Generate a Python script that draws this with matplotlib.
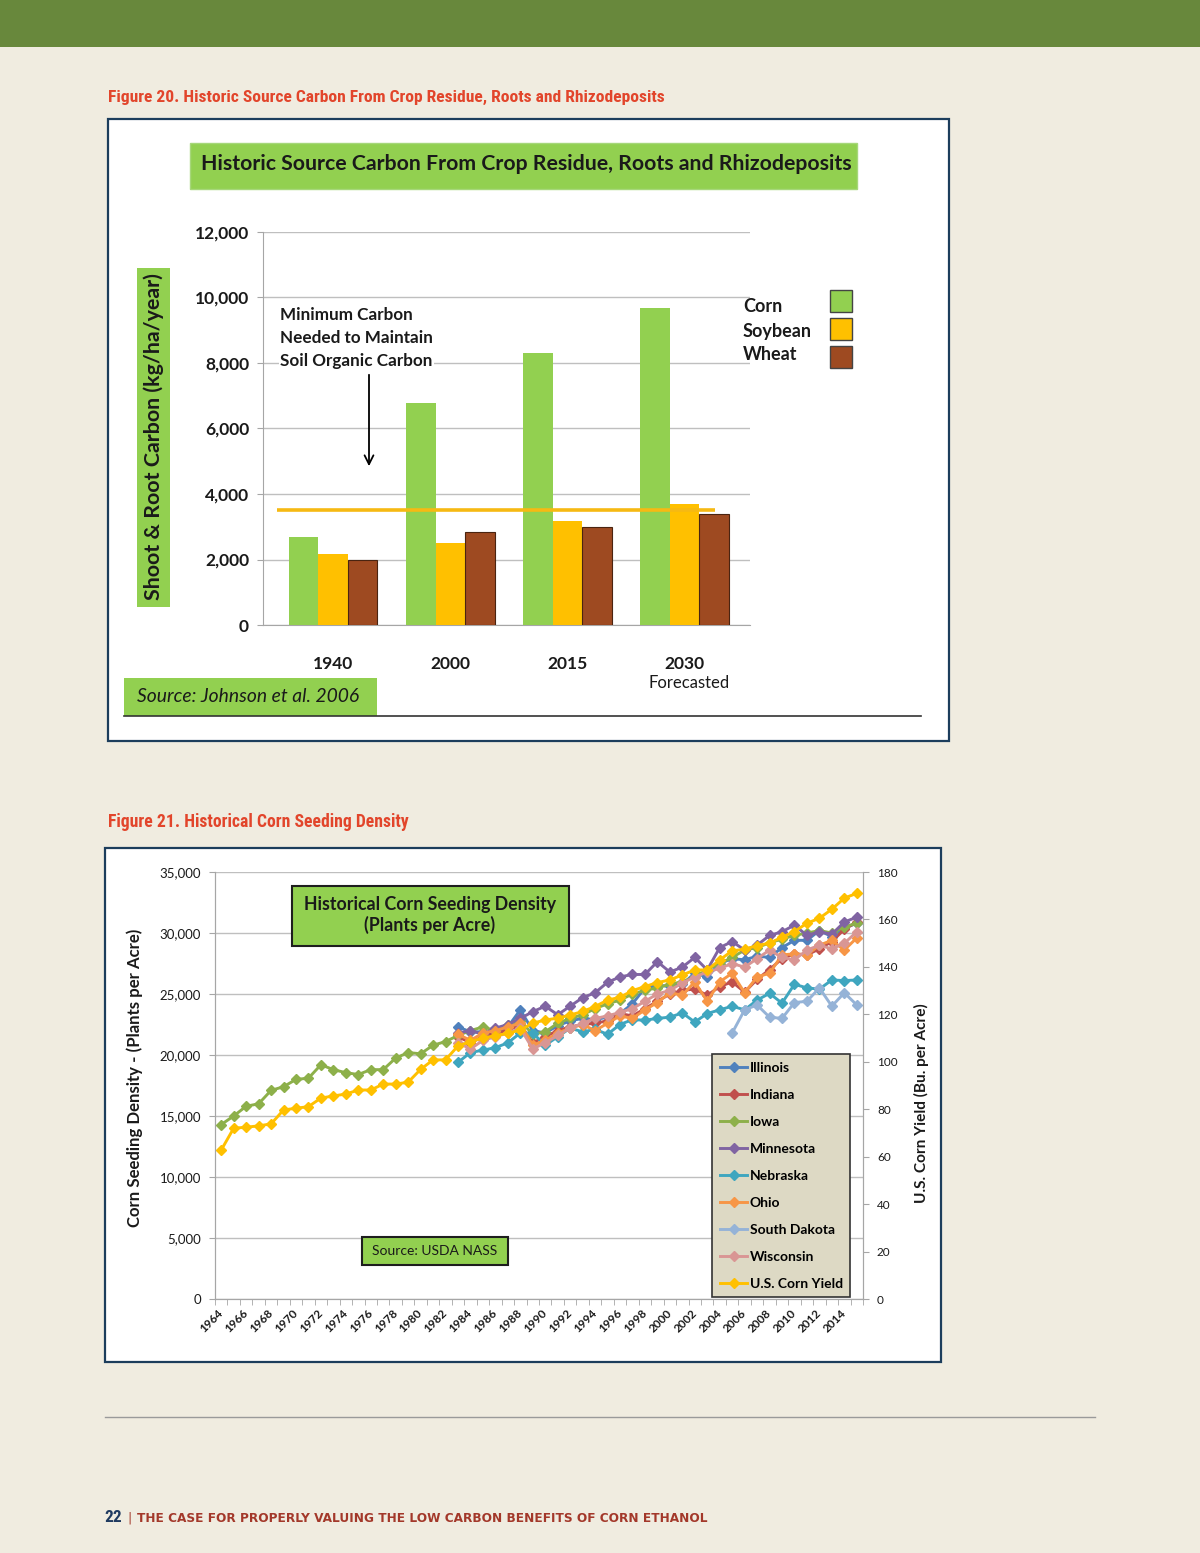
import numpy as np
import matplotlib
matplotlib.use('Agg')
import matplotlib.pyplot as plt
from matplotlib.patches import Rectangle
from matplotlib import font_manager as fm

# ---------------- Figure 20 data ----------------
carbon_years = ['1940', '2000', '2015', '2030']
corn_carbon = [2700, 6780, 8300, 9680]
soybean_carbon = [2170, 2500, 3180, 3700]
wheat_carbon = [1970, 2840, 3000, 3390]
min_carbon = 3500
carbon_yticks = [0, 2000, 4000, 6000, 8000, 10000, 12000]

# ---------------- Figure 21 data ----------------
years_all = list(range(1964, 2016))
years_states = list(range(1983, 2016))
years_sd = list(range(2005, 2016))

iowa = [14300, 15000, 15800, 16000, 17100, 17400, 18000, 18100, 19200, 18800,
        18550, 18400, 18800, 18800, 19750, 20200, 20100, 20800, 21100, 21600,
        22000, 22300, 22000, 22500, 22800, 21700, 21900, 22600, 23000, 23300,
        23800, 24200, 24500, 25000, 25300, 25500, 25800, 26000, 26400, 27000,
        27500, 28000, 28600, 28800, 29200, 29500, 29800, 30000, 30200, 30000,
        30500, 30800]
illinois = [22300, 21900, 21900, 21700, 22300, 23700, 22000, 21800, 22400, 22800,
            23000, 22900, 23100, 23400, 24200, 25500, 25700, 25650, 25800, 26700,
            26400, 27500, 27900, 27800, 28100, 28000, 28800, 29400, 29400, 30200,
            29700, 30400, 30800]
indiana = [21500, 21000, 21500, 21800, 22000, 22500, 21000, 21500, 22000, 22300,
           22500, 22600, 22800, 23400, 23200, 23800, 24400, 25000, 25300, 25400,
           24900, 25600, 26000, 25150, 26200, 27000, 27900, 28300, 28200, 28700,
           29300, 30300, 30900]
minnesota = [21800, 22000, 21700, 22200, 22500, 23000, 23550, 24000, 23300, 24000,
             24700, 25100, 25960, 26400, 26600, 26600, 27650, 26800, 27200, 28000,
             26970, 28800, 29300, 28600, 29000, 29800, 30100, 30650, 29800, 30100,
             29900, 30900, 31300]
nebraska = [19400, 20200, 20400, 20600, 21000, 21800, 21800, 20800, 21500, 22200,
            21900, 22100, 21700, 22500, 22900, 22850, 23000, 23100, 23450, 22700,
            23400, 23700, 24000, 23700, 24500, 25050, 24250, 25800, 25500, 25400,
            26150, 26100, 26150]
ohio = [21700, 21200, 21800, 22000, 22300, 22600, 20800, 21200, 21800, 22200,
        22500, 22000, 22600, 23200, 23000, 23700, 24300, 25100, 24900, 26000,
        24400, 26000, 26700, 25100, 26400, 26700, 28200, 28300, 28200, 29000,
        29400, 28600, 29600]
south_dakota = [21800, 23700, 24100, 23100, 23000, 24300, 24400, 25500, 24000, 25100, 24100]
wisconsin = [21000, 20500, 21200, 21500, 21800, 22200, 20500, 21000, 21600, 22200,
             22600, 23000, 23200, 23500, 23800, 24400, 25000, 25300, 25900, 26400,
             26800, 27100, 27500, 27200, 27900, 28600, 28000, 27800, 28600, 29000,
             28700, 29150, 30100]
us_yield = [62.8, 72.0, 72.4, 73.0, 73.8, 79.7, 80.4, 81.1, 84.7, 85.6,
            86.4, 88.1, 88.1, 90.6, 90.6, 91.4, 96.8, 100.8, 100.8, 106.7,
            108.5, 110.0, 111.0, 112.0, 113.4, 116.3, 117.6, 118.4, 119.7, 121.2,
            123.3, 126.0, 127.2, 130.0, 131.7, 133.4, 134.5, 136.6, 138.7, 138.7,
            142.9, 146.8, 147.4, 149.0, 150.0, 152.5, 154.9, 158.4, 160.5, 164.3,
            169.0, 171.0]
density_yticks = list(range(0, 35001, 5000))
yield_yticks = list(range(0, 181, 20))
xtick_years = list(range(1964, 2015, 2))

# ---------------- fonts ----------------
names = {f.name for f in fm.fontManager.ttflist}


def condensed_font():
    for p in ['Roboto Condensed', 'Liberation Sans Narrow', 'DejaVu Sans Condensed',
              'Open Sans Condensed', 'Noto Sans Condensed', 'Arial Narrow']:
        if p in names:
            return p, 'normal'
    for f in fm.fontManager.ttflist:
        if str(f.stretch) in ('condensed', 'semi-condensed', 'extra-condensed') and \
                f.name in ('DejaVu Sans', 'Noto Sans', 'Open Sans', 'Roboto'):
            return f.name, str(f.stretch)
    return 'Roboto', 'normal'


COND, COND_STRETCH = condensed_font()
plt.rcParams['font.family'] = ['Lato', 'DejaVu Sans']

W, H = 1200, 1553
PAGE = '#F0ECE0'
GREEN_BAND = '#68883C'
FRAME = '#1C3D5C'
CAPTION = '#E2452B'
BOXGREEN = '#92D050'
GRID = '#BFBFBF'
TXT = '#1A1A1A'

C_CORN, C_SOY, C_WHEAT = '#92D050', '#FFC000', '#9E4A21'
series_colors = {
    'Illinois': '#4F81BD', 'Indiana': '#C0504D', 'Iowa': '#8DB04A',
    'Minnesota': '#8064A2', 'Nebraska': '#3FA6BF', 'Ohio': '#F79646',
    'South Dakota': '#95B3D7', 'Wisconsin': '#D99694', 'U.S. Corn Yield': '#FFC000'}


def rect(x0, y0, x1, y1):
    return [x0 / W, 1 - y1 / H, (x1 - x0) / W, (y1 - y0) / H]


fig = plt.figure(figsize=(W / 100, H / 100), dpi=100)
fig.patch.set_facecolor(PAGE)
to_fit = []  # (text, target px, 'w' or 'h')

# background layer
bg = fig.add_axes([0, 0, 1, 1], zorder=0)
bg.set_xlim(0, W); bg.set_ylim(H, 0); bg.axis('off')
bg.add_patch(Rectangle((0, 0), W, 47, color=GREEN_BAND, lw=0))
bg.add_patch(Rectangle((108, 119), 841, 622, facecolor='white', edgecolor=FRAME, lw=1.6))
bg.add_patch(Rectangle((105, 848), 836, 514, facecolor='white', edgecolor=FRAME, lw=1.6))
bg.plot([105, 1095], [1417, 1417], color='#9A9A9A', lw=1)
t = bg.text(108, 97, 'Figure 20. Historic Source Carbon From Crop Residue, Roots and Rhizodeposits',
            family=COND, stretch=COND_STRETCH, weight='bold', fontsize=12.2, color=CAPTION,
            va='center', ha='left')
to_fit.append((t, 559, 'w'))
t = bg.text(108, 822, 'Figure 21. Historical Corn Seeding Density',
            family=COND, stretch=COND_STRETCH, weight='bold', fontsize=12.2, color=CAPTION,
            va='center', ha='left')
to_fit.append((t, 301, 'w'))
bg.text(104, 1517, '22', family=COND, stretch=COND_STRETCH, weight='bold', fontsize=12.5,
        color='#1F3A60', va='center', ha='left')
bg.text(127, 1518, '|', family='DejaVu Sans', fontsize=9, color='#A3382A',
        va='center', ha='left')
t = bg.text(137, 1518, 'THE CASE FOR PROPERLY VALUING THE LOW CARBON BENEFITS OF CORN ETHANOL',
            family='DejaVu Sans', weight='bold', fontsize=8.5, color='#A3382A',
            va='center', ha='left')
to_fit.append((t, 570, 'w'))

# ---------------- Chart 1: bars ----------------
ax1 = fig.add_axes(rect(263, 232, 750, 625), zorder=2)
ax1.patch.set_alpha(0)
xc = np.arange(len(carbon_years))
bw = 0.252
ax1.bar(xc - bw, corn_carbon, bw, color=C_CORN, zorder=3)
ax1.bar(xc, soybean_carbon, bw, color=C_SOY, zorder=3)
ax1.bar(xc + bw, wheat_carbon, bw, color=C_WHEAT, edgecolor='#4A2410', lw=0.8, zorder=3)
ax1.plot([-0.479, 3.265], [min_carbon, min_carbon], color='#F6B913', lw=2.6, zorder=4,
         solid_capstyle='butt')
ax1.set_xlim(-0.6, 3.56)
ax1.set_ylim(0, 12000)
ax1.set_yticks(carbon_yticks)
ax1.set_yticklabels([f'{v:,}' for v in carbon_yticks])
ax1.yaxis.grid(True, color=GRID, lw=1)
ax1.set_axisbelow(True)
ax1.set_xticks(xc)
ax1.set_xticklabels(carbon_years)
for s in ['top', 'right']:
    ax1.spines[s].set_visible(False)
ax1.spines['left'].set_color('#A6A6A6')
ax1.spines['bottom'].set_color('#A6A6A6')
ax1.tick_params(axis='y', length=4, color='#A6A6A6', pad=6, labelsize=12.5, labelcolor=TXT)
ax1.tick_params(axis='x', length=0, pad=22, labelsize=12.5, labelcolor=TXT)
for lab in ax1.get_yticklabels() + ax1.get_xticklabels():
    lab.set_fontweight('bold')

# ---------------- Chart 2: lines ----------------
ax2 = fig.add_axes(rect(215, 872, 863, 1299), zorder=2)
ax2.patch.set_alpha(0)
ax2r = ax2.twinx()
ax2r.patch.set_alpha(0)

mk = dict(marker='D', markersize=5.5, lw=2.1)
handles = []
state_data = [('Illinois', years_states, illinois), ('Indiana', years_states, indiana),
              ('Iowa', years_all, iowa), ('Minnesota', years_states, minnesota),
              ('Nebraska', years_states, nebraska), ('Ohio', years_states, ohio),
              ('South Dakota', years_sd, south_dakota), ('Wisconsin', years_states, wisconsin)]
for name, yrs, vals in state_data:
    h, = ax2.plot(yrs, vals, color=series_colors[name], label=name, **mk)
    handles.append(h)
h, = ax2r.plot(years_all, us_yield, color=series_colors['U.S. Corn Yield'],
               label='U.S. Corn Yield', **mk)
handles.append(h)

ax2.set_xlim(1963.5, 2015.5)
ax2.set_ylim(0, 35000)
ax2r.set_ylim(0, 180)
ax2.set_yticks(density_yticks)
ax2.set_yticklabels([f'{v:,}' for v in density_yticks])
ax2r.set_yticks(yield_yticks)
ax2.yaxis.grid(True, color=GRID, lw=1)
ax2.set_axisbelow(True)
ax2.set_xticks(xtick_years)
ax2.set_xticklabels([str(y) for y in xtick_years], rotation=45, ha='right', va='center',
                    rotation_mode='anchor')
ax2.set_xticks(np.arange(1963.5, 2016, 1.0), minor=True)
ax2.tick_params(axis='x', which='major', length=0, pad=9, labelsize=8.5, labelcolor=TXT)
ax2.tick_params(axis='x', which='minor', length=4, color='#A6A6A6')
ax2.tick_params(axis='y', length=4, color='#A6A6A6', pad=6, labelsize=9.5, labelcolor=TXT)
ax2r.tick_params(axis='y', length=4, color='#A6A6A6', pad=6, labelsize=8.5, labelcolor=TXT)
for lab in ax2.get_xticklabels():
    lab.set_fontweight('bold')
for a in (ax2, ax2r):
    a.spines['top'].set_visible(False)
    for s in ['left', 'right', 'bottom']:
        a.spines[s].set_color('#A6A6A6')

leg = ax2r.legend(handles=handles, loc='upper left', bbox_to_anchor=(712 / W, 1 - 1054 / H),
                  bbox_transform=fig.transFigure, borderaxespad=0, frameon=True, fancybox=False,
                  prop={'family': 'Lato', 'weight': 'bold', 'size': 10},
                  handlelength=2.0, handletextpad=0.15, labelspacing=1.08, borderpad=0.55)
leg.get_frame().set_facecolor('#DDD9C4')
leg.get_frame().set_edgecolor('#333333')
leg.get_frame().set_linewidth(1.2)
leg.get_frame().set_alpha(1)

# ---------------- overlay: boxes and annotations ----------------
ov = fig.add_axes([0, 0, 1, 1], zorder=5)
ov.set_xlim(0, W); ov.set_ylim(H, 0); ov.axis('off'); ov.patch.set_alpha(0)

# chart 1
ov.add_patch(Rectangle((190, 143), 667, 46, facecolor=BOXGREEN, edgecolor='#A6D77A', lw=1))
t = ov.text(526, 164, 'Historic Source Carbon From Crop Residue, Roots and Rhizodeposits',
            fontsize=15, weight='bold', color=TXT, ha='center', va='center')
to_fit.append((t, 649, 'w'))
ov.add_patch(Rectangle((137, 268), 33, 339, facecolor=BOXGREEN, edgecolor='none'))
t = ov.text(154, 437, 'Shoot & Root Carbon (kg/ha/year)', rotation=90, fontsize=15,
            weight='bold', color=TXT, ha='center', va='center')
to_fit.append((t, 328, 'h'))
ov.add_patch(Rectangle((124, 678), 253, 38, facecolor=BOXGREEN, edgecolor='none'))
t = ov.text(137, 697, 'Source: Johnson et al. 2006', fontsize=13.5, style='italic',
            color=TXT, ha='left', va='center')
to_fit.append((t, 222, 'w'))
ov.plot([124, 921], [716, 716], color='#333333', lw=1.2)
ov.text(280, 338, 'Minimum Carbon\nNeeded to Maintain\nSoil Organic Carbon', fontsize=12.3,
        weight='bold', color=TXT, ha='left', va='center', linespacing=1.55,
        bbox=dict(facecolor='white', edgecolor='none', pad=1))
ov.annotate('', xy=(369, 469), xytext=(369, 372),
            arrowprops=dict(arrowstyle='->', color='black', lw=1.3, mutation_scale=16))
ov.text(689, 683, 'Forecasted', fontsize=12, color=TXT, ha='center', va='center')
for i, (lab, col) in enumerate([('Corn', C_CORN), ('Soybean', C_SOY), ('Wheat', C_WHEAT)]):
    ov.text(743, 307 + 24 * i, lab, fontsize=13, weight='bold', color=TXT, ha='left', va='center')
    ov.add_patch(Rectangle((830, 290 + 28 * i), 22, 22, facecolor=col, edgecolor='#444444', lw=1))

# chart 2
ov.add_patch(Rectangle((292, 886), 277, 60, facecolor=BOXGREEN, edgecolor='#1E1E1E', lw=1.5))
t = ov.text(430, 915, 'Historical Corn Seeding Density\n(Plants per Acre)', fontsize=12.8,
            weight='bold', color=TXT, ha='center', va='center', linespacing=1.2)
to_fit.append((t, 253, 'w'))
ov.add_patch(Rectangle((362, 1237), 146, 28, facecolor=BOXGREEN, edgecolor='#1E1E1E', lw=1.5))
t = ov.text(435, 1251, 'Source: USDA NASS', fontsize=9.9, color=TXT, ha='center', va='center')
to_fit.append((t, 125, 'w'))
t = ov.text(135, 1078, 'Corn Seeding Density - (Plants per Acre)', rotation=90, fontsize=11.5,
            weight='bold', color=TXT, ha='center', va='center')
to_fit.append((t, 301, 'h'))
t = ov.text(921, 1103, 'U.S. Corn Yield (Bu. per Acre)', rotation=90, fontsize=11,
            weight='bold', color=TXT, ha='center', va='center')
to_fit.append((t, 200, 'h'))

# size texts so their extents match the page layout
renderer = fig.canvas.get_renderer()
for _ in range(2):
    for txt, target, dim in to_fit:
        bb = txt.get_window_extent(renderer)
        cur = bb.width if dim == 'w' else bb.height
        if cur > 0:
            txt.set_fontsize(txt.get_fontsize() * target / cur)

fig.savefig('out.png', dpi=100, facecolor=PAGE)
